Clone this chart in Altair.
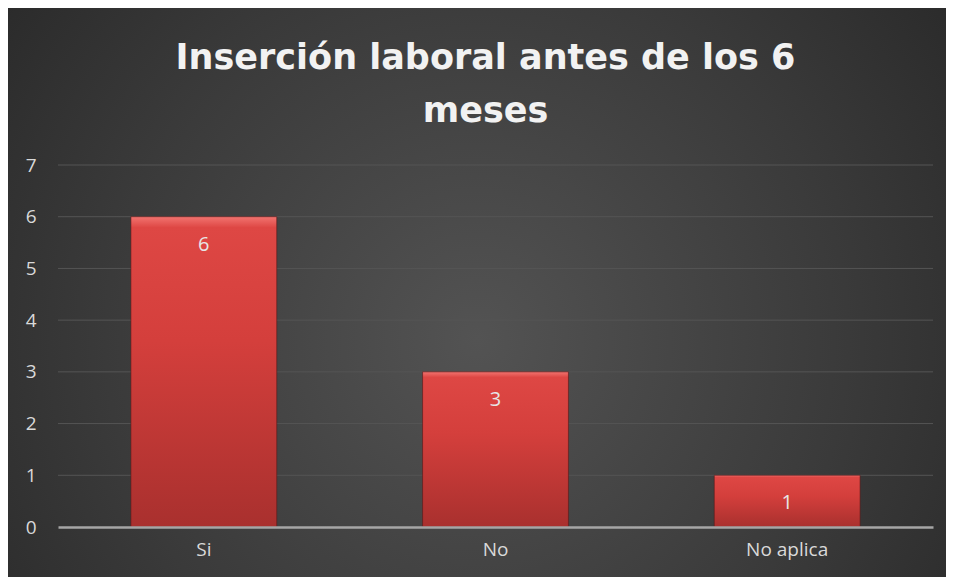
import altair as alt
import pandas as pd

categories = ["Si", "No", "No aplica"]
values = [6, 3, 1]
grid_ticks = [1, 2, 3, 4, 5, 6, 7]
title_lines = ["Inserción laboral antes de los 6", "meses"]

df = pd.DataFrame({"cat": categories, "val": values})
grid_df = pd.DataFrame({"t": grid_ticks})
bg_df = pd.DataFrame({"a": [0]})

W, H = 875, 362
PL, PT, PR, PB = 50, 157, 13, 50

x_enc = alt.X("cat:N", sort=categories,
              scale=alt.Scale(paddingInner=0.5, paddingOuter=0.25),
              axis=alt.Axis(title=None, labelAngle=0, ticks=False, domain=True,
                            domainColor="#a6a6a6", domainWidth=2.5,
                            labelColor="#d9d9d9", labelFontSize=19,
                            labelFont="Open Sans", labelPadding=13, zindex=1))
y_scale = alt.Scale(domain=[0, 7])

bg = alt.Chart(bg_df).mark_rect(
    fill=alt.Gradient(gradient="radial",
                      stops=[alt.GradientStop(color="#535353", offset=0),
                             alt.GradientStop(color="#3a3a3a", offset=0.55),
                             alt.GradientStop(color="#242424", offset=1)],
                      x1=0.5, y1=0.55, r1=0, x2=0.5, y2=0.55, r2=0.72)
).encode(x=alt.value(-PL), x2=alt.value(W + PR), y=alt.value(-PT), y2=alt.value(H + PB))

grid = alt.Chart(grid_df).mark_rule(color="#555555", strokeWidth=1).encode(
    y=alt.Y("t:Q", scale=y_scale)
)

bars = alt.Chart(df).mark_bar(
    fill=alt.Gradient(gradient="linear",
                      stops=[alt.GradientStop(color="#f27470", offset=0),
                             alt.GradientStop(color="#de4744", offset=0.035),
                             alt.GradientStop(color="#d43f3c", offset=0.4),
                             alt.GradientStop(color="#a9302e", offset=1)],
                      x1=0, y1=0, x2=0, y2=1),
    stroke="#5a1817", strokeWidth=1, strokeOpacity=0.6
).encode(
    x=x_enc,
    y=alt.Y("val:Q", scale=y_scale,
            axis=alt.Axis(title=None, values=grid_ticks + [0], format="d", grid=False,
                          ticks=False, domain=False, labelColor="#d9d9d9", labelFontSize=19,
                          labelFont="Open Sans", labelPadding=22, zindex=1))
)

labels = alt.Chart(df).mark_text(
    baseline="middle", dy=28, color="#e6e6e6", fontSize=20, font="Open Sans"
).encode(x=alt.X("cat:N", sort=categories), y=alt.Y("val:Q", scale=y_scale), text="val:Q")

chart = alt.layer(bg, grid, bars, labels).properties(
    width=W, height=H,
    padding={"left": PL, "top": PT, "right": PR, "bottom": PB},
    autosize=alt.AutoSizeParams(type="none"),
    title=alt.TitleParams(text=title_lines, font="DejaVu Sans", fontSize=35,
                          fontWeight="bold", color="#f2f2f2", lineHeight=53,
                          anchor="middle", dx=-10, offset=-121),
).configure(background="#262626").configure_view(stroke=None)

chart.save("out.html", embed_options={"renderer": "svg", "actions": False})
